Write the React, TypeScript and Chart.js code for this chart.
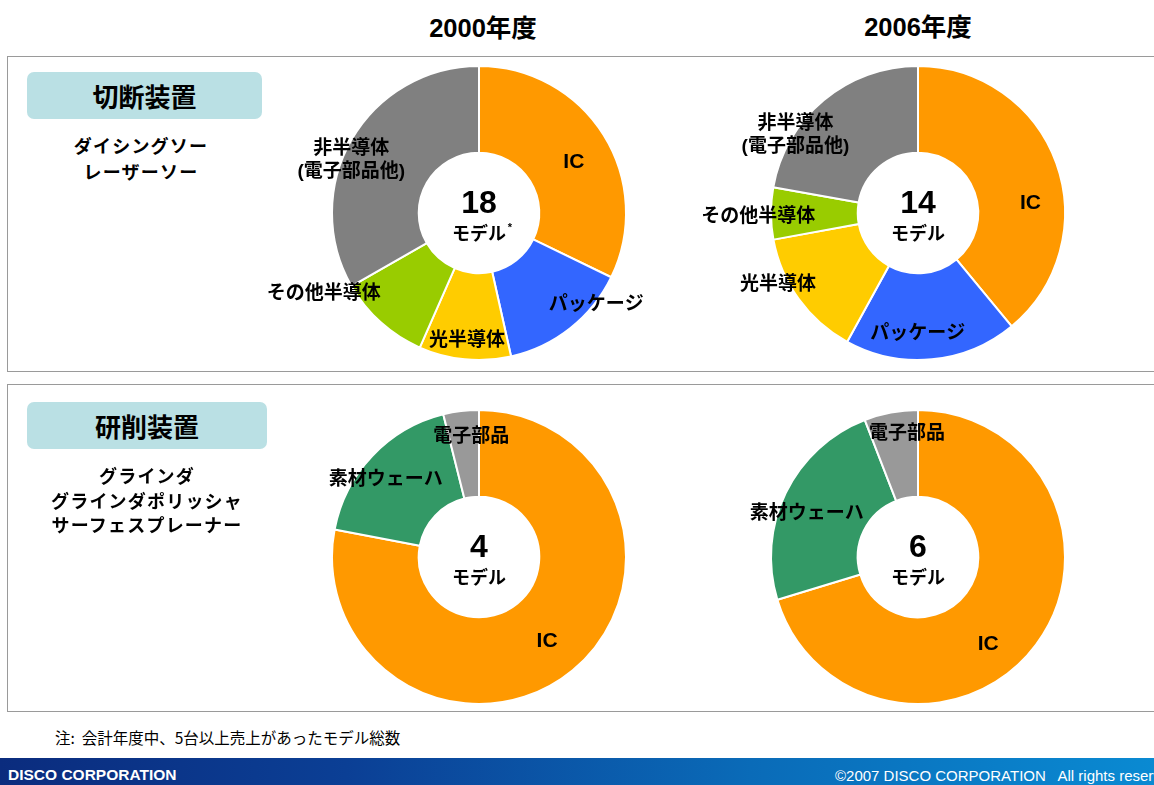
import React, { useEffect, useRef } from "react";
import { Chart, registerables } from "chart.js";

Chart.register(...registerables);

// ---------- DATA ----------
const yearTitles = ["2000年度", "2006年度"];

const cutCategories = ["IC", "パッケージ", "光半導体", "その他半導体", "非半導体\n(電子部品他)"];
const cut2000Shares = [32.2, 14.3, 10.1, 10.1, 33.3];
const cut2006Shares = [39.0, 19.0, 14.1, 5.7, 22.2];
const cutModelCounts = ["18", "14"];

const grindCategories = ["IC", "素材ウェーハ", "電子部品"];
const grind2000Shares = [78.0, 18.1, 3.9];
const grind2006Shares = [70.3, 23.8, 5.9];
const grindModelCounts = ["4", "6"];

const cutMachineTitle = "切断装置";
const cutMachineTypes = ["ダイシングソー", "レーザーソー"];
const grindMachineTitle = "研削装置";
const grindMachineTypes = ["グラインダ", "グラインダポリッシャ", "サーフェスプレーナー"];

const footnote = "注:  会計年度中、5台以上売上があったモデル総数";
const footerLeft = "DISCO CORPORATION";
const footerRight = "©2007 DISCO CORPORATION   All rights reserved.";

// ---------- STYLES ----------
const cutColors = ["#FF9900", "#3366FF", "#FFCC00", "#99CC00", "#808080"];
const grindColors = ["#FF9900", "#339966", "#999999"];

// label offsets (px) from the arc mid point
const cut2000Offsets = [[7, 4], [53, 10], [-2, 25], [-86, 4], [-38, -1]];
const cut2006Offsets = [[15, 25], [-10, 18], [-56, 11], [-56, 3], [-56, 2]];
const grind2000Offsets = [[2, 4], [-18, -6], [5, -17]];
const grind2006Offsets = [[-13, 26], [-18, 2], [8, -21]];

const FONT = '"Liberation Sans", Arial, "Noto Sans CJK JP", sans-serif';
const RING = 296; // ring box size
const CW = 460; // canvas width (room for outside labels)
const CH = 300;

type DonutProps = {
  cx: number;
  cy: number;
  labels: string[];
  values: number[];
  colors: string[];
  offsets: number[][];
  count: string;
  unit: string;
  star?: boolean;
};

const Donut: React.FC<DonutProps> = ({ cx, cy, labels, values, colors, offsets, count, unit, star }) => {
  const ref = useRef<HTMLCanvasElement | null>(null);
  useEffect(() => {
    if (!ref.current) return;
    const labelPlugin = {
      id: "sliceLabels",
      afterDatasetsDraw(chart: any) {
        const ctx = chart.ctx;
        const meta = chart.getDatasetMeta(0);
        ctx.save();
        ctx.fillStyle = "#000";
        ctx.textAlign = "center";
        ctx.textBaseline = "middle";
        meta.data.forEach((arc: any, i: number) => {
          const p = arc.getProps(["x", "y", "startAngle", "endAngle", "innerRadius", "outerRadius"], true);
          const mid = (p.startAngle + p.endAngle) / 2;
          const r = (p.innerRadius + p.outerRadius) / 2;
          const x = p.x + Math.cos(mid) * r + offsets[i][0];
          const y = p.y + Math.sin(mid) * r + offsets[i][1];
          const lines = String(chart.data.labels[i]).split("\n");
          ctx.font = `bold ${lines[0] === "IC" ? 21 : 19}px ${FONT}`;
          const lh = 23;
          lines.forEach((ln: string, k: number) => {
            ctx.fillText(ln, x, y + (k - (lines.length - 1) / 2) * lh);
          });
        });
        // center text
        const a = meta.data[0];
        const c = a.getProps(["x", "y"], true);
        ctx.font = `bold 32px ${FONT}`;
        ctx.fillText(count, c.x, c.y - 9);
        ctx.font = `bold 18px ${FONT}`;
        ctx.fillText(unit, c.x, c.y + 22);
        if (star) {
          const w = ctx.measureText(unit).width;
          ctx.font = `bold 11px ${FONT}`;
          ctx.fillText("*", c.x + w / 2 + 4, c.y + 15);
        }
        ctx.restore();
      },
    };
    const padX = (CW - RING) / 2;
    const padY = (CH - RING) / 2;
    const chart = new Chart(ref.current, {
      type: "doughnut",
      data: {
        labels,
        datasets: [
          {
            data: values,
            backgroundColor: colors,
            borderColor: "#FFFFFF",
            borderWidth: 2,
            borderAlign: "center",
          } as any,
        ],
      },
      options: {
        animation: false,
        responsive: false,
        maintainAspectRatio: false,
        cutout: "41%",
        layout: { padding: { left: padX, right: padX, top: padY, bottom: padY } },
        plugins: { legend: { display: false }, tooltip: { enabled: false }, title: { display: false } },
        events: [],
      } as any,
      plugins: [labelPlugin],
    });
    return () => chart.destroy();
  }, []);
  return (
    <canvas
      ref={ref}
      width={CW}
      height={CH}
      style={{ position: "absolute", left: cx - CW / 2, top: cy - CH / 2, width: CW, height: CH }}
    />
  );
};

const jp: React.CSSProperties = { fontFamily: FONT, fontWeight: "bold", color: "#000" };

export default function App() {
  return (
    <div
      style={{
        position: "absolute",
        left: 0,
        top: 0,
        width: 1154,
        height: 785,
        overflow: "hidden",
        background: "#fff",
      }}
    >
      {/* year titles */}
      <div style={{ ...jp, position: "absolute", left: 383, top: 12, width: 200, textAlign: "center", fontSize: 25.5, lineHeight: "32px" }}>
        {yearTitles[0]}
      </div>
      <div style={{ ...jp, position: "absolute", left: 818, top: 11, width: 200, textAlign: "center", fontSize: 25.5, lineHeight: "32px" }}>
        {yearTitles[1]}
      </div>

      {/* panels */}
      <div style={{ position: "absolute", left: 7, top: 56, width: 1200, height: 316, border: "1.5px solid #9a9a9a", boxSizing: "border-box" }} />
      <div style={{ position: "absolute", left: 7, top: 384, width: 1200, height: 328, border: "1.5px solid #9a9a9a", boxSizing: "border-box" }} />

      {/* category boxes */}
      <div
        style={{
          ...jp,
          position: "absolute",
          left: 27,
          top: 72,
          width: 235,
          height: 47,
          background: "#BAE0E4",
          borderRadius: 7,
          display: "flex",
          alignItems: "center",
          justifyContent: "center",
          fontSize: 26,
        }}
      >
        {cutMachineTitle}
      </div>

      <div
        style={{
          ...jp,
          position: "absolute",
          left: 27,
          top: 402,
          width: 240,
          height: 47,
          background: "#BAE0E4",
          borderRadius: 7,
          display: "flex",
          alignItems: "center",
          justifyContent: "center",
          fontSize: 26,
        }}
      >
        {grindMachineTitle}
      </div>

      {/* doughnuts */}
      <Donut cx={479} cy={213} labels={cutCategories} values={cut2000Shares} colors={cutColors} offsets={cut2000Offsets} count={cutModelCounts[0]} unit="モデル" star />
      <Donut cx={918} cy={213} labels={cutCategories} values={cut2006Shares} colors={cutColors} offsets={cut2006Offsets} count={cutModelCounts[1]} unit="モデル" />
      <Donut cx={479} cy={557} labels={grindCategories} values={grind2000Shares} colors={grindColors} offsets={grind2000Offsets} count={grindModelCounts[0]} unit="モデル" />
      <Donut cx={918} cy={557} labels={grindCategories} values={grind2006Shares} colors={grindColors} offsets={grind2006Offsets} count={grindModelCounts[1]} unit="モデル" />

      {/* machine type lists (above canvases) */}
      <div style={{ ...jp, position: "absolute", left: 41, top: 134, width: 200, textAlign: "center", fontSize: 18, lineHeight: "26px", letterSpacing: 1.2 }}>
        {cutMachineTypes.map((t) => (
          <div key={t}>{t}</div>
        ))}
      </div>
      <div style={{ ...jp, position: "absolute", left: 22, top: 465, width: 250, textAlign: "center", fontSize: 18, lineHeight: "24.5px", letterSpacing: 1.2 }}>
        {grindMachineTypes.map((t) => (
          <div key={t}>{t}</div>
        ))}
      </div>

      {/* footnote */}
      <div style={{ position: "absolute", left: 55, top: 727, fontFamily: '"Noto Sans CJK JP", sans-serif', fontSize: 15.5, lineHeight: "20px", color: "#000", whiteSpace: "pre" }}>
        {footnote}
      </div>

      {/* footer bar */}
      <div
        style={{
          position: "absolute",
          left: 0,
          top: 758,
          width: 1154,
          height: 27,
          background: "linear-gradient(90deg, #0B2C7E 0%, #0B3F95 30%, #0A6BB8 65%, #0A8AD2 100%)",
        }}
      />
      <div
        style={{
          position: "absolute",
          left: 8,
          top: 765,
          fontFamily: '"Liberation Sans Narrow", "Liberation Sans", sans-serif',
          fontWeight: "bold",
          fontSize: 15.5,
          lineHeight: "20px",
          color: "#fff",
          whiteSpace: "pre",
        }}
      >
        {footerLeft}
      </div>
      <div
        style={{
          position: "absolute",
          left: 835,
          top: 767,
          fontFamily: '"Liberation Sans", Arial, sans-serif',
          fontSize: 15,
          lineHeight: "18px",
          color: "#fff",
          whiteSpace: "pre",
        }}
      >
        {footerRight}
      </div>
    </div>
  );
}
